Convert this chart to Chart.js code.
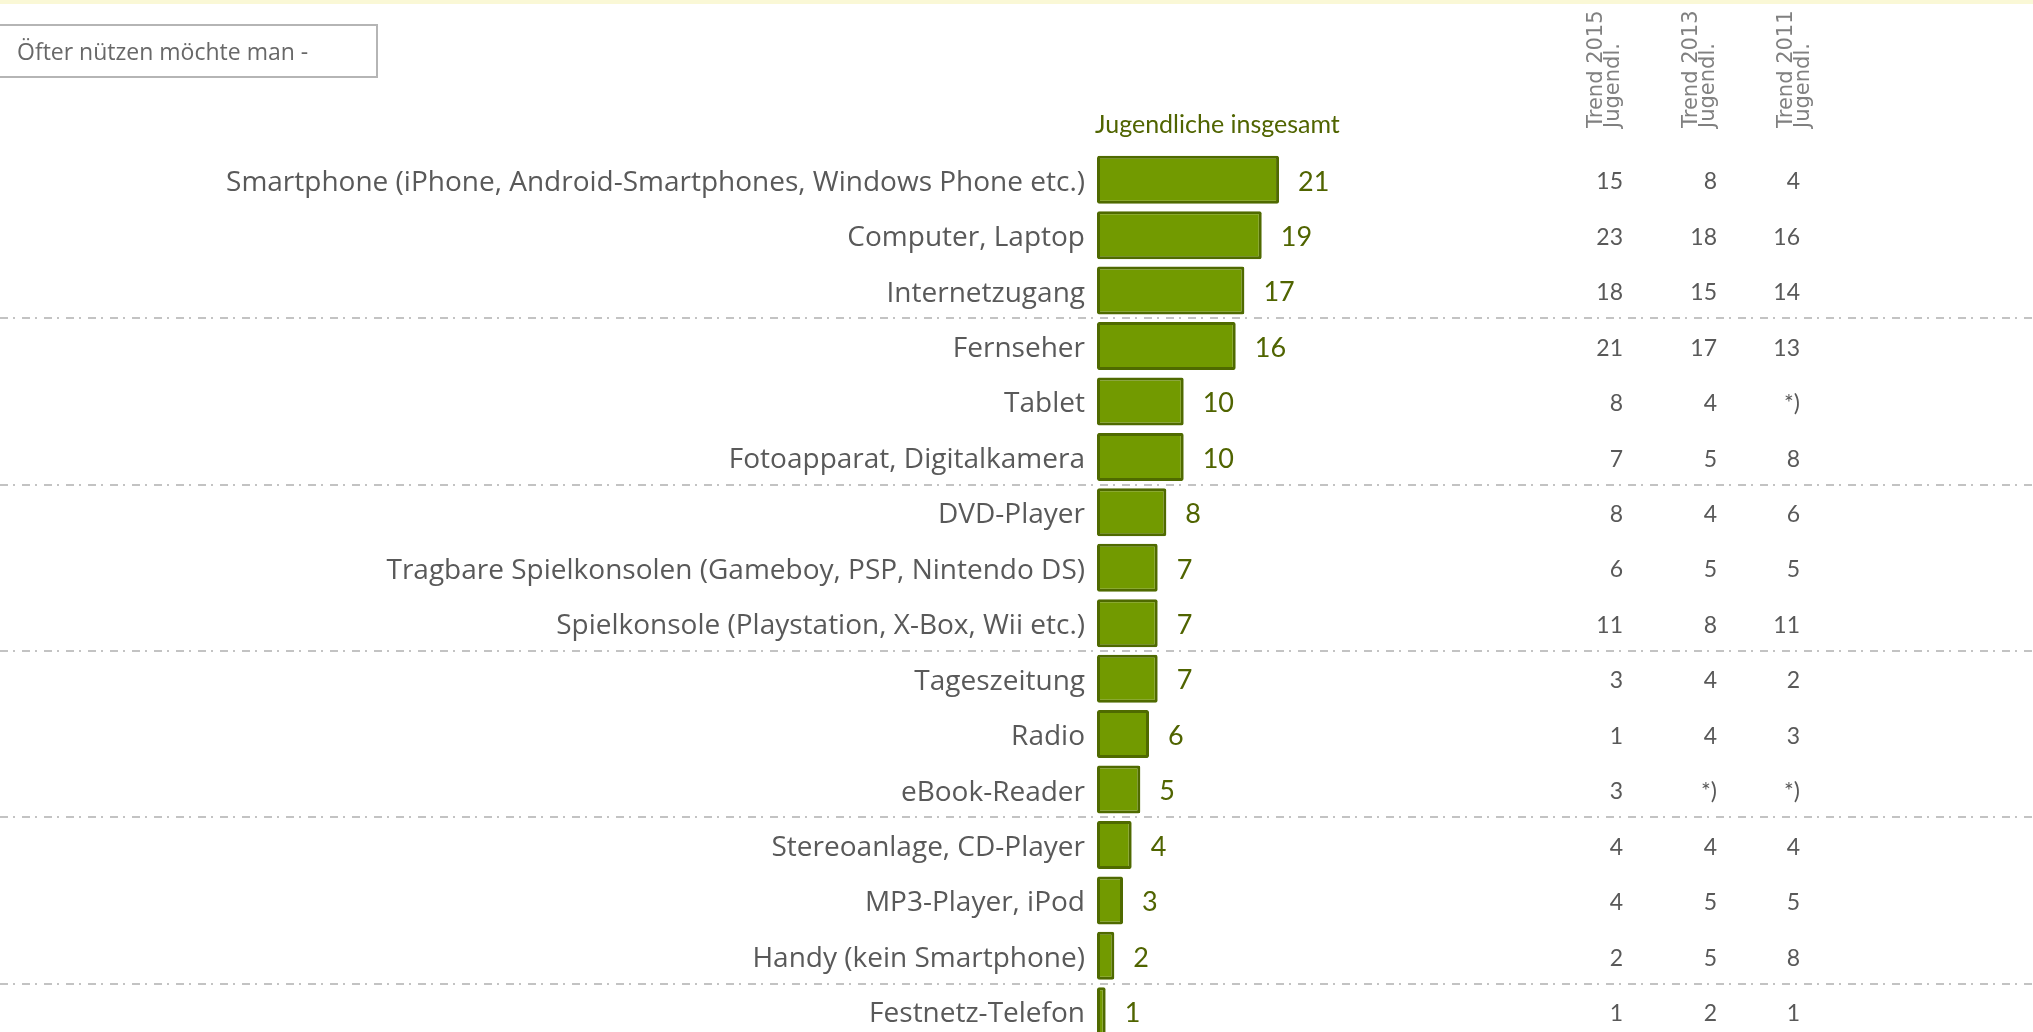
<!DOCTYPE html>
<html lang="de">
<head>
<meta charset="utf-8">
<title>Öfter nützen möchte man</title>
<script src="https://cdn.jsdelivr.net/npm/chart.js@4/dist/chart.umd.min.js"></script>
<style>
  html, body { margin: 0; padding: 0; background: #fff; overflow: hidden; }
  #wrap { position: relative; width: 2033px; height: 1032px; overflow: hidden; }
  #topStrip { position: absolute; left: 0; top: 0; width: 2033px; height: 4px; background: #faf8d6; }
  #frage {
    position: absolute; left: -2px; top: 24px; width: 380px; height: 54px;
    border: 2px solid #b5b5b5; box-sizing: border-box;
    font: 23px "Open Sans", sans-serif; color: #686868;
    line-height: 50px; padding-left: 17px;
  }
  #chart { position: absolute; left: 0; top: 0; }
</style>
</head>
<body>
<div id="wrap">
  <canvas id="chart" width="2033" height="1040"></canvas>
  <div id="topStrip"></div>
  <div id="frage">Öfter nützen möchte man -</div>
</div>
<script>
// Kategorien (von oben nach unten)
const categories = [
    "Smartphone (iPhone, Android-Smartphones, Windows Phone etc.)",
    "Computer, Laptop",
    "Internetzugang",
    "Fernseher",
    "Tablet",
    "Fotoapparat, Digitalkamera",
    "DVD-Player",
    "Tragbare Spielkonsolen (Gameboy, PSP, Nintendo DS)",
    "Spielkonsole (Playstation, X-Box, Wii etc.)",
    "Tageszeitung",
    "Radio",
    "eBook-Reader",
    "Stereoanlage, CD-Player",
    "MP3-Player, iPod",
    "Handy (kein Smartphone)",
    "Festnetz-Telefon"
];

// Jugendliche insgesamt (%)
const values = [21, 19, 17, 16, 10, 10, 8, 7, 7, 7, 6, 5, 4, 3, 2, 1];

// Trendwerte
const trend2015 = ["15", "23", "18", "21", "8", "7", "8", "6", "11", "3", "1", "3", "4", "4", "2", "1"];
const trend2013 = ["8", "18", "15", "17", "4", "5", "4", "5", "8", "4", "4", "*)", "4", "5", "5", "2"];
const trend2011 = ["4", "16", "14", "13", "*)", "8", "6", "5", "11", "2", "3", "*)", "4", "5", "8", "1"];

const trendHeaders = ["Trend 2015", "Trend 2013", "Trend 2011"];
const seriesLabel = "Jugendliche insgesamt";

// Gruppen-Trennlinien nach jeweils 3 Kategorien
const groupSize = 3;

const trendColumns = [
    { values: trend2015, right: 1623, headerX: 1602 },
    { values: trend2013, right: 1717, headerX: 1697 },
    { values: trend2011, right: 1800, headerX: 1792 }
];

const olive = "#506400";
const grey = "#595959";

const extrasPlugin = {
    id: "extras",
    beforeDatasetsDraw(chart) {
        const ctx = chart.ctx;
        const y = chart.scales.y;
        ctx.save();
        ctx.strokeStyle = "#c3c3c3";
        ctx.lineWidth = 2;
        ctx.setLineDash([8, 5, 2, 7]);
        for (let i = groupSize; i < categories.length; i += groupSize) {
            const py = Math.round((y.getPixelForValue(i - 1) + y.getPixelForValue(i)) / 2);
            ctx.beginPath();
            ctx.moveTo(0, py);
            ctx.lineTo(chart.width, py);
            ctx.stroke();
        }
        ctx.restore();
    },
    afterDatasetsDraw(chart) {
        const ctx = chart.ctx;
        const meta = chart.getDatasetMeta(0);
        ctx.save();

        // Werte neben den Balken
        ctx.font = "27px Lato";
        ctx.fillStyle = olive;
        ctx.textAlign = "left";
        ctx.textBaseline = "alphabetic";
        meta.data.forEach((bar, i) => {
            ctx.fillText(String(values[i]), bar.x + 19, bar.y + 27 * 0.4);
        });

        // Trendspalten
        ctx.font = "23px Lato";
        ctx.fillStyle = grey;
        ctx.textAlign = "right";
        trendColumns.forEach(col => {
            meta.data.forEach((bar, i) => {
                ctx.fillText(col.values[i], col.right, bar.y + 23 * 0.42);
            });
        });

        // Reihenbeschriftung
        ctx.font = "25px Lato";
        ctx.fillStyle = olive;
        ctx.textAlign = "left";
        ctx.fillText(seriesLabel, chart.chartArea.left - 2, 133);

        // gedrehte Kopfzeilen
        ctx.font = "21px 'DejaVu Sans'";
        ctx.fillStyle = "#808080";
        trendColumns.forEach((col, k) => {
            ctx.save();
            ctx.translate(col.headerX, 128);
            ctx.rotate(-Math.PI / 2);
            ctx.fillText(trendHeaders[k], 0, 0);
            ctx.fillText("Jugendl.", 0, 17);
            ctx.restore();
        });

        ctx.restore();
    }
};

const ctx = document.getElementById("chart").getContext("2d");

const chart = new Chart(ctx, {
    type: "bar",
    data: {
        labels: categories,
        datasets: [{
            label: seriesLabel,
            data: values,
            backgroundColor: "#729a00",
            borderColor: "#4f6a00",
            borderWidth: 3,
            borderSkipped: false,
            borderRadius: 2,
            barPercentage: 0.866,
            categoryPercentage: 1
        }]
    },
    options: {
        indexAxis: "y",
        responsive: false,
        animation: false,
        devicePixelRatio: 1,
        layout: { padding: { top: 152, right: 69, bottom: 1, left: 0 } },
        plugins: {
            legend: { display: false },
            tooltip: { enabled: false }
        },
        scales: {
            x: {
                display: false,
                min: 0,
                max: 100
            },
            y: {
                grid: { display: false, drawTicks: false },
                border: { display: false },
                ticks: {
                    padding: 12,
                    labelOffset: 3,
                    color: grey,
                    font: { family: "Open Sans", size: 28 }
                },
                afterFit(scale) {
                    scale.width = 1097;
                    scale.paddingTop = 0;
                    scale.paddingBottom = 0;
                }
            }
        }
    },
    plugins: [extrasPlugin]
});
</script>
</body>
</html>
